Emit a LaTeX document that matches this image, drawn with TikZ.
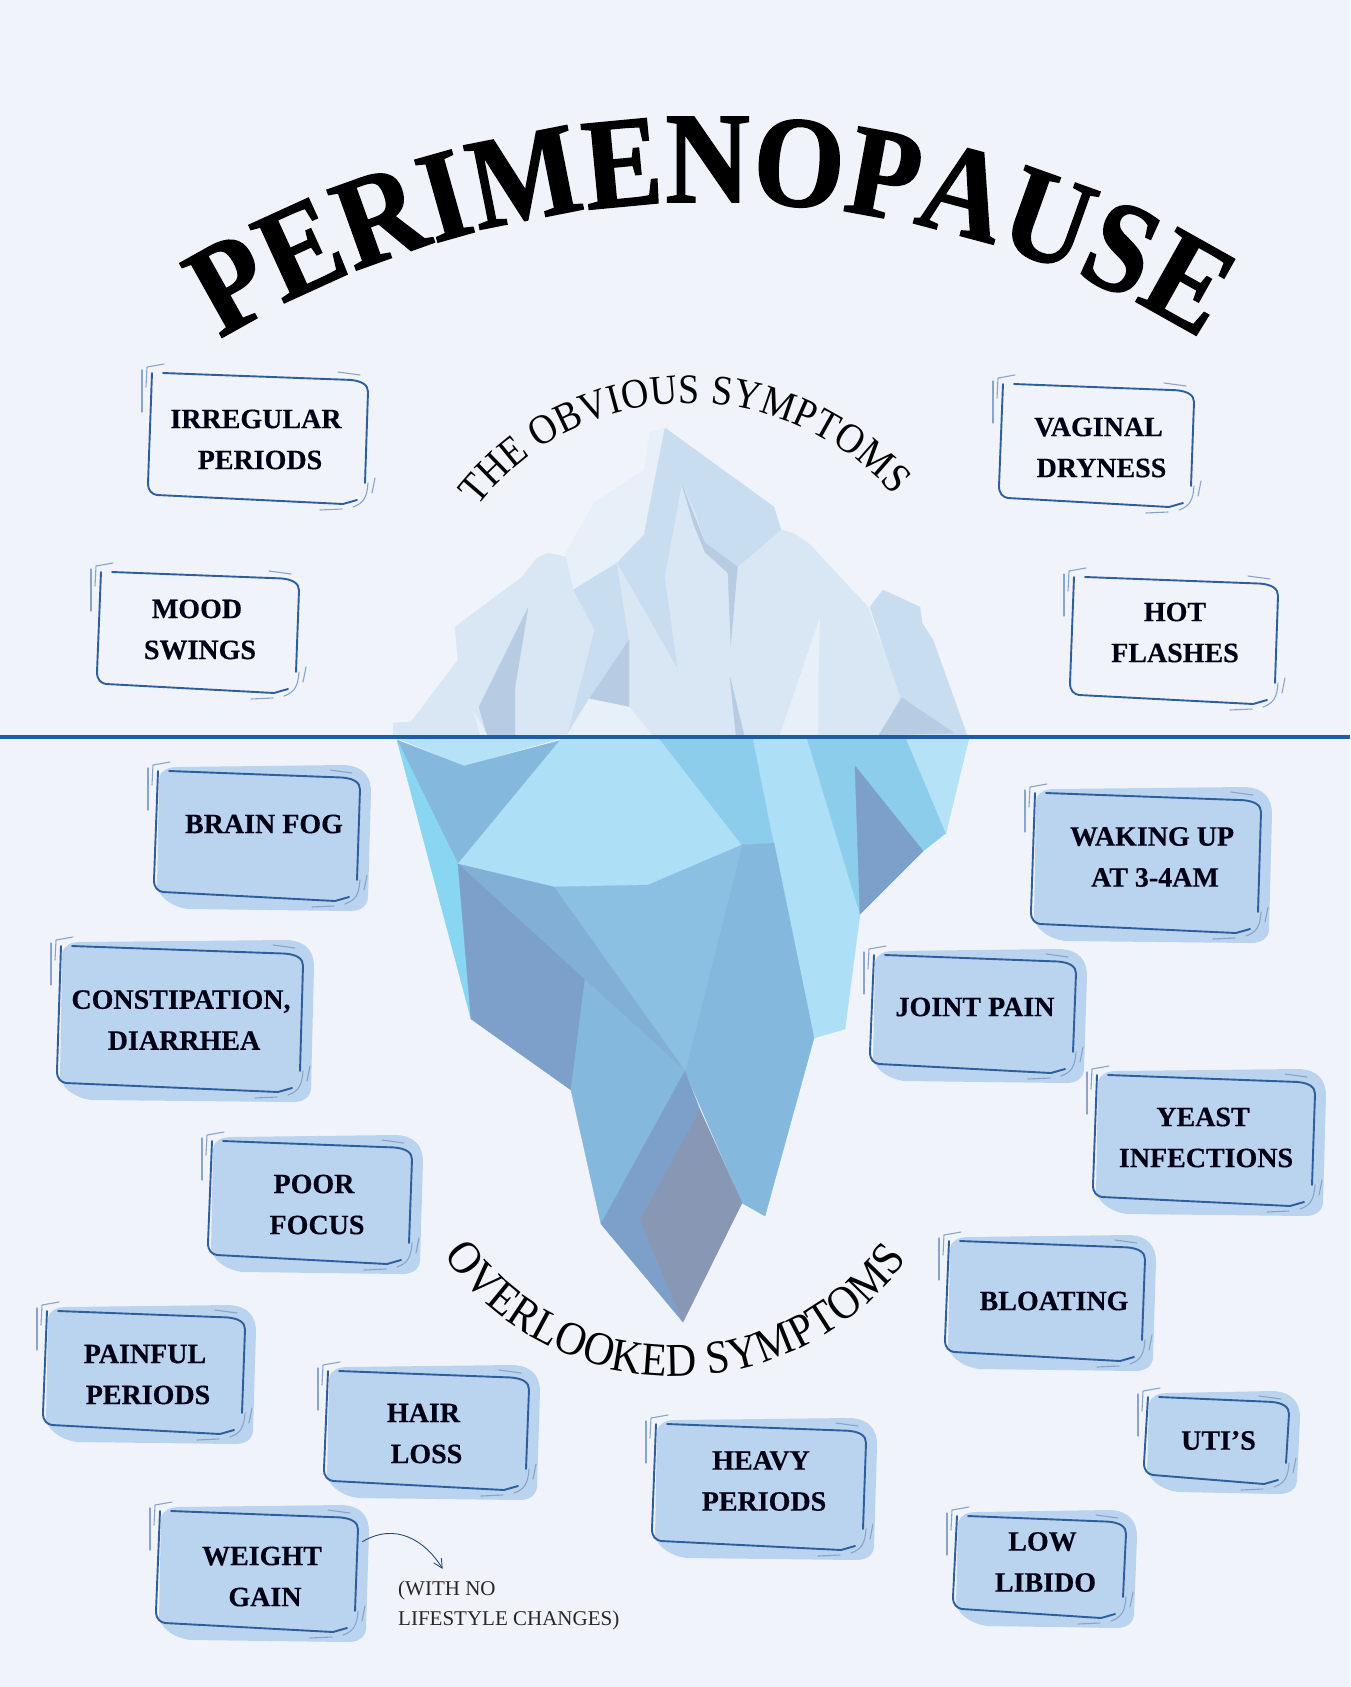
\documentclass[tikz,border=0pt]{standalone}
\usepackage{fontspec}
\usetikzlibrary{decorations.text,arrows.meta,calc}
\setmainfont{Liberation Serif}
\newfontfamily\ttlfont[FakeBold=1.2,FakeStretch=0.9]{Liberation Serif Bold}
\newfontfamily\arcfont[FakeStretch=0.9]{Liberation Serif}
\newfontfamily\boxfont[FakeBold=0.35]{Liberation Serif Bold}
\definecolor{bgc}{HTML}{F0F4FA}
\definecolor{ice0}{HTML}{E7F0F8}
\definecolor{ice1}{HTML}{D9E7F5}
\definecolor{ice2}{HTML}{C9DDF0}
\definecolor{ice3}{HTML}{B7CCE2}
\definecolor{sea0}{HTML}{ADDFF6}
\definecolor{sea1}{HTML}{8CCDEC}
\definecolor{sea2}{HTML}{84B8DC}
\definecolor{sea3}{HTML}{8BC0E2}
\definecolor{sea4}{HTML}{7CA0CA}
\definecolor{sea5}{HTML}{8898B4}
\definecolor{sea6}{HTML}{88D6F2}
\definecolor{sea7}{HTML}{82AFD6}
\definecolor{sea8}{HTML}{B6E2F7}
\definecolor{linec}{HTML}{1F5CA6}
\definecolor{boxline}{HTML}{2E5E9C}
\definecolor{boxthin}{HTML}{8AA4C8}
\definecolor{boxfill}{HTML}{BAD3EE}
\tikzset{
  bergface/.style={fill=#1,draw=#1,line width=0.4pt,line join=round},
  mainstroke/.style={draw=boxline,line width=1.9pt,line cap=round,line join=round},
  thinstroke/.style={draw=boxthin,line width=1.1pt,line cap=round,line join=round},
  boxtext/.style={font=\boxfont\fontsize{28}{41}\selectfont,align=center,inner sep=0pt,text=black!92!blue},
}
\newcommand{\symstrokes}[2]{%
  \pgfmathsetmacro\W{#1}\pgfmathsetmacro\H{#2}\pgfmathsetmacro\D{0.027*#1}%
  \draw[mainstroke] (2,-1) -- (-2,{\H-12}) .. controls (-2,{\H-4}) and (2,{\H-1}) .. (7,\H) -- ({\W-25},{\H+9}) -- ({\W-11},{\H+5});
  \draw[mainstroke] (13,-1) -- ({\W-18},\D) .. controls ({\W-6},{\D+1}) and (\W,{\D+5}) .. (\W,{\D+12}) -- ({\W-3},{\H-12});
  \draw[thinstroke] (-4,13) -- (-3,-7) -- (14,-10);
  \draw[thinstroke] (-8,-4) -- (-8,38);
  \draw[thinstroke] ({\W-30},-2) -- ({\W-8},1);
  \draw[thinstroke] ({\W+7},{\H-17}) -- ({\W+4},{\H-2});
  \draw[thinstroke] (\W,{\H-12}) .. controls ({\W-1},{\H+2}) and ({\W-4},{\H+8}) .. ({\W-15},{\H+12});
  \draw[thinstroke] ({\W-48},{\H+15}) -- ({\W-26},{\H+14});
}
% name, x, y, w, h, dx, dy, text : plain outlined box
\newcommand{\plainbox}[8]{%
  \begin{scope}[shift={(#2,#3)}]
    \symstrokes{#4}{#5}
    \node[boxtext,minimum width=#4pt,minimum height=#5pt] (#1) at ({#4/2+#6},{#5/2+3+#7}) {#8};
  \end{scope}}
% name, x, y, w, h, dx, dy, text : filled box
\newcommand{\fillbox}[8]{%
  \begin{scope}[shift={(#2,#3)}]
    \pgfmathsetmacro\W{#4}\pgfmathsetmacro\H{#5}%
    \fill[boxfill] (3,6) .. controls (5,-2) and (12,-5) .. (22,-5) -- ({\W-16},-7)
      .. controls ({\W+3},-6) and ({\W+11},4) .. ({\W+11},20) -- ({\W+8},{\H+6})
      .. controls ({\W+7},{\H+14}) and ({\W+1},{\H+19}) .. ({\W-10},{\H+19}) -- (32,{\H+17})
      .. controls (18,{\H+15}) and (6,{\H+8}) .. (1,{\H-4}) -- cycle;
    \symstrokes{#4}{#5}
    \node[boxtext,minimum width=#4pt,minimum height=#5pt] (#1) at ({#4/2+#6},{#5/2+3+#7}) {#8};
  \end{scope}}
\begin{document}
\begin{tikzpicture}[x=1pt,y=-1pt]
\useasboundingbox (0,0) rectangle (1350,1687);
\fill[bgc] (0,0) rectangle (1350,1687);

% ---- upper iceberg
\path[bergface=ice0] (650,432) -- (665,428) -- (650,530) -- (617,563) -- (573,590) -- (566,553) -- (594,503) -- (644,470) -- cycle;
\path[bergface=ice2] (665,428) -- (774,507) -- (781,530) -- (738,567) -- (730,650) -- (680,680) -- (629,707) -- (589,735) -- (567,735) -- (594,630) -- (573,590) -- (617,563) -- (644,535) -- cycle;
\path[bergface=ice2] (883,590) -- (870,607) -- (900,697) -- (879,735) -- (967,735) -- (933,640) -- (922,623) -- (920,607) -- cycle;
\path[bergface=ice1] (617,563) -- (629,640) -- (629,707) -- (652,735) -- (760,735) -- (740,620) -- (740,567) -- (730,573) -- (705,543) -- (694,510) -- (682,485) -- (665,577) -- (678,670) -- cycle;
\path[bergface=ice3] (682,485) -- (705,543) -- (738,567) -- (731,647) -- (728,573) -- (705,552) -- (694,525) -- cycle;
\path[bergface=ice1] (782,530) .. controls (795,533) and (805,540) .. (812,547) -- (868,607) -- (900,697) -- (879,735) -- (730,735) -- (731,647) -- (738,567) -- cycle;
\path[bergface=ice0] (820,618) -- (780,735) -- (818,735) -- (818,677) -- cycle;
\path[bergface=ice3] (730,677) -- (736,735) -- (744,735) -- cycle;
\path[bergface=ice3] (902,698) -- (954,733) -- (879,735) -- cycle;
\path[bergface=ice3] (629,640) -- (629,707) -- (590,698) -- cycle;
\path[bergface=ice0] (589,699) -- (629,707) -- (652,735) -- (567,735) -- cycle;
\path[bergface=ice1] (548,553) -- (566,557) -- (573,590) -- (594,630) -- (567,735) -- (393,735) -- (393,723) -- (411,722) -- (458,660) -- (455,627) -- (522,577) -- (537,558) -- cycle;
\path[bergface=ice3] (528,608) -- (479,707) -- (487,735) -- (515,735) -- (515,687) -- cycle;
\path[bergface=ice0] (474,712) -- (480,735) -- (487,735) -- cycle;

% ---- lower iceberg
\path[bergface=sea8] (397,738) -- (562,738) -- (464,766) -- cycle;
\path[bergface=sea2] (397,740) -- (464,766) -- (562,740) -- (458,864) -- cycle;
\path[bergface=sea6] (397,740) -- (458,864) -- (471,1019) -- cycle;
\path[bergface=sea0] (562,738) -- (659,738) -- (742,845) -- (648,885) -- (554,887) -- (458,864) -- cycle;
\path[bergface=sea1] (659,738) -- (753,738) -- (774,843) -- (742,845) -- cycle;
\path[bergface=sea0] (753,738) -- (807,738) -- (860,914) -- (845,1029) -- (814,1038) -- (774,843) -- cycle;
\path[bergface=sea1] (807,738) -- (906,738) -- (946,833) -- (923,851) -- (860,914) -- cycle;
\path[bergface=sea4] (855,766) -- (923,851) -- (860,914) -- cycle;
\path[bergface=sea8] (906,738) -- (969,738) -- (946,833) -- cycle;
\path[bergface=sea2] (742,845) -- (774,843) -- (814,1038) -- (765,1216) -- (742,1203) -- (685,1071) -- cycle;
\path[bergface=sea3] (554,887) -- (648,885) -- (742,845) -- (685,1071) -- cycle;
\path[bergface=sea7] (458,864) -- (554,887) -- (685,1071) -- (585,980) -- cycle;
\path[bergface=sea4] (458,864) -- (585,980) -- (571,1090) -- (471,1019) -- cycle;
\path[bergface=sea2] (585,980) -- (685,1071) -- (601,1224) -- (571,1090) -- cycle;
\path[bergface=sea4] (685,1071) -- (700,1110) -- (640,1220) -- (683,1322) -- (601,1224) -- cycle;
\path[bergface=sea5] (700,1110) -- (742,1203) -- (683,1322) -- (640,1220) -- cycle;

% ---- water line
\coordinate (wl) at (0,737);
\coordinate (wr) at (1350,737);
\draw[linec,line width=4.5pt] (wl) -- (wr);

% ---- curved text
\path[decorate,decoration={text along path,text align={fit to path},
  text={|\ttlfont\fontsize{130}{130}\selectfont|PERIMENOPAUSE}}]
  plot[domain=238.8:301.2,samples=80] ({711+948*cos(\x)},{1150+948*sin(\x)});
\path[decorate,decoration={text along path,text align={fit to path},
  text={|\arcfont\fontsize{42}{42}\selectfont|THE OBVIOUS SYMPTOMS}}]
  plot[domain=218:319,samples=60] ({690+270*cos(\x)},{673+270*sin(\x)});
\path[decorate,decoration={text along path,text align={fit to path},
  text={|\arcfont\fontsize{47}{47}\selectfont|OVERLOOKED SYMPTOMS}}]
  plot[domain=145:36,samples=60] ({677+284.5*cos(\x)},{1092+284.5*sin(\x)});

% ---- obvious symptoms
\plainbox{irregular}{150}{374}{218}{121}{-3}{2}{IRREGULAR\\\hspace*{8pt}PERIODS}
\plainbox{vaginal}{1001}{385}{193}{113}{1}{3}{VAGINAL\\\hspace*{6pt}DRYNESS}
\plainbox{mood}{99}{573}{200}{111}{-2}{-2}{MOOD\\\hspace*{6pt}SWINGS}
\plainbox{hot}{1072}{578}{206}{117}{0}{-7}{HOT\\FLASHES}

% ---- overlooked symptoms
\fillbox{brainfog}{156}{772}{204}{120}{2}{-11}{\hspace*{8pt}BRAIN FOG}
\fillbox{waking}{1033}{794}{228}{130}{5}{-5}{WAKING UP\\\hspace*{6pt}AT 3-4AM}
\fillbox{constipation}{59}{947}{244}{136}{0}{2}{CONSTIPATION,\\\hspace*{6pt}DIARRHEA}
\fillbox{joint}{872}{956}{204}{108}{1}{-6}{JOINT PAIN}
\fillbox{yeast}{1095}{1076}{220}{121}{-2}{-2}{YEAST\\\hspace*{6pt}INFECTIONS}
\fillbox{poor}{210}{1142}{202}{113}{3}{3}{POOR\\\hspace*{6pt}FOCUS}
\fillbox{bloating}{947}{1242}{198}{110}{8}{1}{BLOATING}
\fillbox{painful}{45}{1312}{200}{113}{0}{3}{PAINFUL\\\hspace*{6pt}PERIODS}
\fillbox{hair}{326}{1372}{203}{109}{-4}{4}{HAIR\\\hspace*{6pt}LOSS}
\fillbox{heavy}{654}{1425}{212}{116}{1}{-5}{HEAVY\\\hspace*{6pt}PERIODS}
\fillbox{utis}{1146}{1398}{143}{77}{1}{1}{UTI’S}
\fillbox{low}{955}{1517}{171}{92}{2}{-4}{LOW\\\hspace*{6pt}LIBIDO}
\fillbox{weight}{158}{1512}{200}{111}{4}{6}{WEIGHT\\\hspace*{6pt}GAIN}

% ---- note and its arrow
\node[anchor=north west,inner sep=0pt,align=left,font=\fontsize{21}{30}\selectfont,text=black!85] (note) at (398,1581) {(WITH NO\\LIFESTYLE CHANGES)};
\draw[boxline!80!black,line width=0.9pt,-{Straight Barb[length=9pt,width=9pt]}]
  ([shift={(0pt,-21pt)}]weight.north east) .. controls (395,1522) and (425,1540) .. ([shift={(-66pt,12pt)}]note.north);
\end{tikzpicture}
\end{document}
